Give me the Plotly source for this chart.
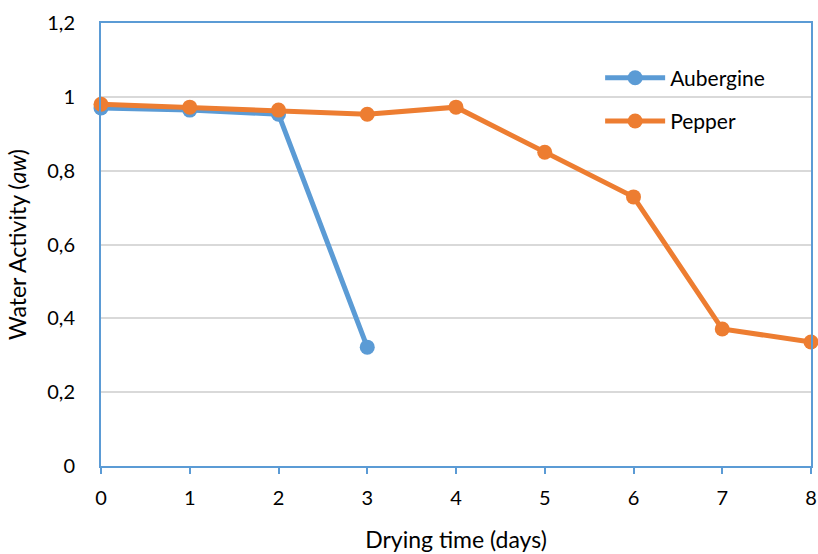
import plotly.graph_objects as go

days_aub = [0, 1, 2, 3]
aw_aub = [0.970, 0.964, 0.953, 0.322]
days_pep = [0, 1, 2, 3, 4, 5, 6, 7, 8]
aw_pep = [0.980, 0.972, 0.964, 0.953, 0.972, 0.850, 0.729, 0.371, 0.336]

BLUE = "#5B9BD5"
ORANGE = "#ED7D31"
FONT = "Lato"

fig = go.Figure()
fig.add_trace(go.Scatter(x=days_aub, y=aw_aub, name="Aubergine", mode="lines+markers",
                         legendgroup="a",
                         line=dict(color=BLUE, width=5), marker=dict(size=15, color=BLUE),
                         cliponaxis=False))
fig.add_trace(go.Scatter(x=days_pep, y=aw_pep, name="Pepper", mode="lines+markers",
                         legendgroup="p",
                         line=dict(color=ORANGE, width=5), marker=dict(size=15, color=ORANGE),
                         cliponaxis=False))

fig.update_layout(
    width=818, height=554,
    margin=dict(l=101, r=7, t=23, b=88),
    paper_bgcolor="white", plot_bgcolor="white",
    separators=", ",
    font=dict(family=FONT, size=20, color="#000000"),
    showlegend=True,
    legend=dict(x=0.703, y=0.922, xanchor="left", yanchor="top",
                bgcolor="rgba(0,0,0,0)", font=dict(size=21, family=FONT),
                itemwidth=60, tracegroupgap=13),
    xaxis=dict(range=[0, 8], tickvals=list(range(0, 9)), showgrid=False,
               showline=True, linecolor=BLUE, linewidth=2, mirror=True,
               ticks="outside", tickcolor=BLUE, ticklen=6, tickwidth=2,
               zeroline=False, tickfont=dict(size=20), automargin=False,
               ticklabelstandoff=7,
               title=dict(text="Drying time (days)", font=dict(size=23), standoff=24)),
    yaxis=dict(range=[0, 1.2], tickvals=[0, 0.2, 0.4, 0.6, 0.8, 1.0, 1.2],
               showgrid=True, gridcolor="#D9D9D9", gridwidth=1.5,
               showline=True, linecolor=BLUE, linewidth=2, mirror=True,
               ticks="", zeroline=False, tickfont=dict(size=20), automargin=False,
               ticklabelstandoff=20,
               title=dict(text="Water Activity (<i>aw</i>)", font=dict(size=23), standoff=14)),
)

fig.write_html("out.html")
